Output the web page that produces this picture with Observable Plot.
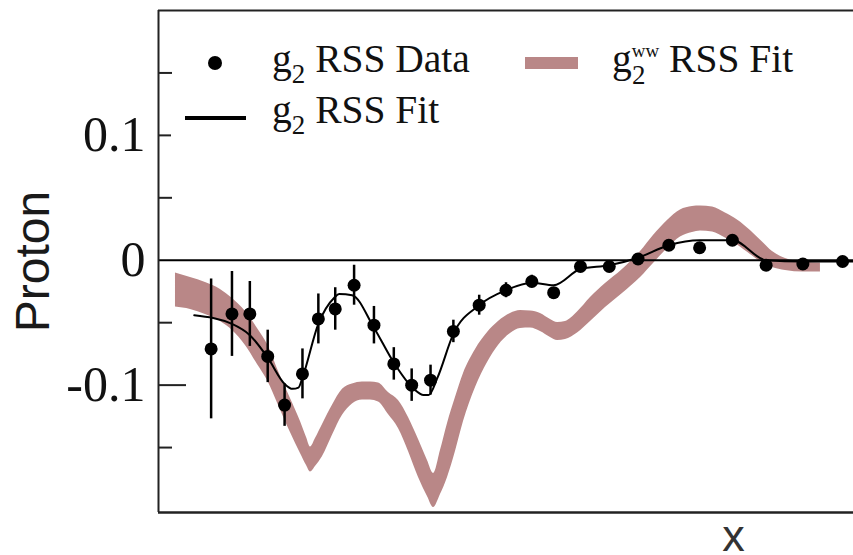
<!DOCTYPE html>
<html>
<head>
<meta charset="utf-8">
<script src="https://cdn.jsdelivr.net/npm/d3@7"></script>
<script src="https://cdn.jsdelivr.net/npm/@observablehq/plot@0.6"></script>
<style>
  html, body { margin: 0; padding: 0; background: #fff; }
  #chart { position: relative; width: 853px; height: 555px; }
</style>
</head>
<body>
<div id="chart"></div>
<script>
// g2 RSS data points: Bjorken x, value, uncertainty
const dataX = [0.253, 0.274, 0.292, 0.310, 0.327, 0.345, 0.361, 0.378, 0.397, 0.417, 0.437, 0.455, 0.474, 0.497, 0.523, 0.550, 0.576, 0.598, 0.625, 0.654, 0.683, 0.714, 0.745, 0.778, 0.812, 0.849, 0.889];
const dataG2 = [-0.071, -0.043, -0.043, -0.077, -0.116, -0.091, -0.047, -0.039, -0.020, -0.052, -0.083, -0.100, -0.096, -0.057, -0.036, -0.024, -0.017, -0.026, -0.005, -0.005, 0.001, 0.012, 0.010, 0.016, -0.004, -0.003, -0.001];
const dataErr = [0.056, 0.034, 0.026, 0.021, 0.017, 0.020, 0.020, 0.017, 0.016, 0.015, 0.013, 0.013, 0.012, 0.009, 0.008, 0.006, 0.005, 0.004, 0.004, 0.004, 0.003, 0.003, 0.004, 0.003, 0.003, 0.003, 0.002];

// g2 RSS fit curve
const fitX = [0.236, 0.274, 0.292, 0.310, 0.327, 0.335, 0.341, 0.345, 0.361, 0.377, 0.382, 0.395, 0.417, 0.437, 0.457, 0.467, 0.472, 0.481, 0.497, 0.523, 0.550, 0.576, 0.598, 0.625, 0.654, 0.683, 0.714, 0.745, 0.778, 0.812, 0.849, 0.889, 0.900];
const fitG2 = [-0.044, -0.051, -0.060, -0.078, -0.099, -0.103, -0.102, -0.094, -0.051, -0.030, -0.027, -0.028, -0.054, -0.082, -0.103, -0.108, -0.108, -0.094, -0.059, -0.036, -0.024, -0.018, -0.020, -0.007, -0.004, 0.002, 0.012, 0.016, 0.016, 0.000, -0.001, -0.001, -0.001];

// g2^WW RSS fit: central value and band half-width
const wwX = [0.2171, 0.2322, 0.2473, 0.2624, 0.2745, 0.2876, 0.2997, 0.3098, 0.3209, 0.3329, 0.3430, 0.3491, 0.3531, 0.3581, 0.3652, 0.3752, 0.3853, 0.3953, 0.4054, 0.4135, 0.4216, 0.4316, 0.4417, 0.4518, 0.4619, 0.4709, 0.4770, 0.4840, 0.4911, 0.4991, 0.5072, 0.5193, 0.5314, 0.5424, 0.5545, 0.5646, 0.5747, 0.5847, 0.5948, 0.6019, 0.6099, 0.6220, 0.6351, 0.6502, 0.6673, 0.6855, 0.6985, 0.7126, 0.7257, 0.7378, 0.7459, 0.7580, 0.7710, 0.7831, 0.7962, 0.8083, 0.8184, 0.8315, 0.8496, 0.8667];
const wwG2 = [-0.0239, -0.0266, -0.0306, -0.0362, -0.0434, -0.0546, -0.0690, -0.0819, -0.1027, -0.1243, -0.1419, -0.1531, -0.1595, -0.1539, -0.1443, -0.1282, -0.1138, -0.1071, -0.1047, -0.1047, -0.1059, -0.1147, -0.1235, -0.1395, -0.1588, -0.1748, -0.1844, -0.1700, -0.1523, -0.1315, -0.1099, -0.0866, -0.0698, -0.0586, -0.0506, -0.0474, -0.0474, -0.0498, -0.0546, -0.0570, -0.0562, -0.0498, -0.0394, -0.0282, -0.0170, -0.0034, 0.0086, 0.0207, 0.0295, 0.0327, 0.0335, 0.0327, 0.0279, 0.0223, 0.0143, 0.0063, 0.0006, -0.0034, -0.0054, -0.0058];
const wwErr = [0.0136, 0.0128, 0.0128, 0.0128, 0.0128, 0.0136, 0.0144, 0.0144, 0.0136, 0.0136, 0.0128, 0.0112, 0.0100, 0.0112, 0.0128, 0.0120, 0.0104, 0.0080, 0.0072, 0.0072, 0.0076, 0.0088, 0.0112, 0.0136, 0.0152, 0.0144, 0.0136, 0.0176, 0.0216, 0.0216, 0.0192, 0.0152, 0.0120, 0.0096, 0.0080, 0.0072, 0.0068, 0.0072, 0.0072, 0.0072, 0.0072, 0.0084, 0.0096, 0.0096, 0.0096, 0.0104, 0.0112, 0.0112, 0.0108, 0.0104, 0.0100, 0.0100, 0.0100, 0.0100, 0.0096, 0.0084, 0.0064, 0.0048, 0.0040, 0.0036];

// Axis ticks
const majorTicks = [-0.1, 0, 0.1];
const minorTicks = [-0.15, -0.05, 0.05, 0.15];

const xDomain = [0.2, 0.9];
const yDomain = [-0.202, 0.2];

const points = dataX.map((x, i) => ({x, y: dataG2[i], e: dataErr[i]}));
const fit = fitX.map((x, i) => ({x, y: fitG2[i]}));
const ww = wwX.map((x, i) => ({x, y: wwG2[i], e: wwErr[i]}));

const W = 853, H = 555;
const mL = 158, mR = 0, mT = 10, mB = 43;
const plotW = W - mL - mR;
const bandColor = "#b98787";
const ink = "#111";

const plot = Plot.plot({
  width: W,
  height: H,
  marginLeft: mL,
  marginRight: mR,
  marginTop: mT,
  marginBottom: mB,
  x: {domain: xDomain, axis: null},
  y: {domain: yDomain, axis: null},
  style: {background: "white", overflow: "visible"},
  marks: [
    // g2^WW band
    Plot.areaY(ww, {x: "x", y1: d => d.y - d.e, y2: d => d.y + d.e, fill: bandColor, curve: "monotone-x"}),
    // zero line
    Plot.ruleY([0], {stroke: "#000", strokeWidth: 2}),
    // frame: left, top, bottom
    Plot.ruleX([xDomain[0]], {stroke: "#222", strokeWidth: 2}),
    Plot.ruleY([yDomain[1]], {stroke: "#222", strokeWidth: 2}),
    Plot.ruleY([yDomain[0]], {stroke: "#222", strokeWidth: 2.5}),
    // inward ticks
    Plot.tickY(minorTicks, {y: d => d, insetRight: plotW - 14, stroke: "#222", strokeWidth: 2}),
    Plot.tickY(majorTicks.filter(t => t > 0), {y: d => d, insetRight: plotW - 13, stroke: "#222", strokeWidth: 2}),
    Plot.tickY(majorTicks.filter(t => t < 0), {y: d => d, insetRight: plotW - 28, stroke: "#222", strokeWidth: 2}),
    Plot.axisY({
      ticks: majorTicks,
      tickSize: 0,
      tickPadding: 13,
      tickFormat: d => d === 0 ? "0" : d.toFixed(1),
      fontSize: 50,
      fontFamily: "Liberation Serif",
      fill: ink,
      label: null
    }),
    // data with error bars
    Plot.ruleX(points, {x: "x", y1: d => d.y - d.e, y2: d => d.y + d.e, stroke: "#000", strokeWidth: 2.5}),
    Plot.line(fit, {x: "x", y: "y", stroke: "#000", strokeWidth: 2, curve: "monotone-x"}),
    Plot.dot(points, {x: "x", y: "y", r: 6.5, fill: "#000", stroke: "none"}),
    // axis titles
    Plot.text(["Proton"], {frameAnchor: "left", dx: -125, rotate: -90, text: d => d, textAnchor: "middle", lineAnchor: "middle", fontSize: 48, fontFamily: "Liberation Sans", fill: "#1a1a1a"}),
    Plot.text(["x"], {frameAnchor: "bottom-right", dx: -120, dy: 24, text: d => d, textAnchor: "middle", lineAnchor: "middle", fontSize: 45, fontFamily: "Liberation Sans", fill: "#333"})
  ]
});

document.getElementById("chart").appendChild(plot);

// Legend inside the plot area
const svg = d3.select(plot);
const lg = svg.append("g")
  .attr("font-family", "Liberation Serif")
  .attr("font-size", 39.5)
  .attr("fill", ink)
  .attr("text-anchor", "start")
  .style("white-space", "pre");

lg.append("circle").attr("cx", 215).attr("cy", 63).attr("r", 7).attr("fill", "#000");
lg.append("line").attr("x1", 185).attr("x2", 246).attr("y1", 118).attr("y2", 118)
  .attr("stroke", "#000").attr("stroke-width", 4);
lg.append("rect").attr("x", 525).attr("y", 57).attr("width", 53).attr("height", 12).attr("fill", bandColor);

function subLabel(x, y, rest) {
  const t = lg.append("text").attr("x", x).attr("y", y);
  t.append("tspan").text("g");
  t.append("tspan").attr("font-size", 27).attr("dy", 11).text("2");
  t.append("tspan").attr("dy", -11).text(" " + rest);
}
subLabel(272, 72, "RSS Data");
subLabel(272, 123, "RSS Fit");

const tw = lg.append("text").attr("x", 612).attr("y", 72);
tw.append("tspan").text("g");
tw.append("tspan").attr("font-size", 19).attr("dy", -15).text("ww");
tw.append("tspan").attr("font-size", 39.5).attr("dy", 15).text(" RSS Fit");
lg.append("text").attr("x", 632).attr("y", 84).attr("font-size", 27).text("2");
</script>
</body>
</html>
